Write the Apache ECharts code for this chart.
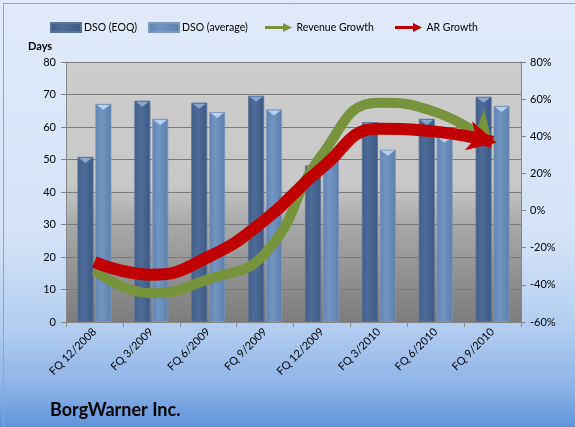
<!DOCTYPE html>
<html><head><meta charset="utf-8">
<script src="https://cdn.jsdelivr.net/npm/echarts@6/dist/echarts.min.js"></script>
<style>html,body{margin:0;padding:0;}#c{width:575px;height:427px;}</style>
</head><body><div id="c"></div>
<script>
const categories = ['FQ 12/2008','FQ 3/2009','FQ 6/2009','FQ 9/2009','FQ 12/2009','FQ 3/2010','FQ 6/2010','FQ 9/2010'];
const dsoEOQ = [50.8, 68.1, 67.5, 69.6, 48.2, 61.5, 62.5, 69.3];
const dsoAvg = [67.1, 62.5, 64.6, 65.4, 53.5, 53.0, 57.0, 66.5];
const revenueGrowth = [-32, -44.5, -37, -23, 30, 58, 53, 36];
const arGrowth = [-27.7, -34.5, -25, -5, 23, 44, 42.5, 37];
const leftTicks = {min: 0, max: 80, interval: 10};
const rightTicks = {min: -60, max: 80, interval: 20};

const FONT = 'Lato';
const chart = echarts.init(document.getElementById('c'));
const arrowIcon = 'path://M0,3.2 L20,3.2 L20,0 L30,5 L20,10 L20,6.8 L0,6.8 Z';
const capShape = 'path://M0,0 L10,0 L5,3.5 Z';

function lineSeries(name, data, color, width, z) {
  return {
    name, type: 'line', yAxisIndex: 1, data, smooth: 0.5,
    lineStyle: {color, width, cap: 'butt'}, itemStyle: {color},
    showSymbol: false, symbol: 'none', z, animation: false
  };
}
// arrow head drawn at the end of a line series, oriented from the library's own coordinates
function arrowSeries(name, data, color, len, wid, tweakDeg, extend, z) {
  const last = data.length - 1;
  return {
    name, type: 'custom', yAxisIndex: 1, z, animation: false, silent: true,
    data: [[last, data[last], data[last - 1]]],
    renderItem: function (params, api) {
      const p = api.coord([api.value(0), api.value(1)]);
      const q = api.coord([api.value(0) - 1, api.value(2)]);
      const a = Math.atan2(p[1] - q[1], p[0] - q[0]) + tweakDeg * Math.PI / 180;
      const c = Math.cos(a), s = Math.sin(a);
      const tip = [p[0] + extend * c, p[1] + extend * s];
      const loc = [[0, 0], [-len, -wid / 2], [-len * 0.72, 0], [-len, wid / 2]];
      const pts = loc.map(([x, y]) => [tip[0] + x * c - y * s, tip[1] + x * s + y * c]);
      return {type: 'polygon', shape: {points: pts}, style: {fill: color}};
    }
  };
}
function capSeries(data, color) {
  return {type: 'pictorialBar', data, symbol: capShape, symbolSize: [13, 5],
    symbolPosition: 'end', symbolOffset: [0, 1], barWidth: 16, barGap: '12%', z: 3, silent: true,
    itemStyle: {color}, animation: false};
}
const option = {
  animation: false,
  backgroundColor: new echarts.graphic.LinearGradient(0, 0, 0, 1, [
    {offset: 0, color: '#e0eafa'}, {offset: 0.55, color: '#d5e3f8'},
    {offset: 0.77, color: '#b2cdf0'}, {offset: 0.9, color: '#8fb4e8'}, {offset: 1, color: '#5f94db'}]),
  textStyle: {fontFamily: FONT},
  title: {text: 'BorgWarner Inc.', left: 50, top: 401, padding: 0,
    textStyle: {fontFamily: FONT, fontWeight: 'bold', fontSize: 18, color: '#000'}},
  graphic: [
    {type: 'rect', left: 1, top: 1, shape: {width: 572, height: 424},
      style: {fill: 'none', stroke: '#9aa4b0', lineWidth: 1}, silent: true},
    {type: 'text', left: 28, top: 41, style: {text: 'Days', fontFamily: FONT, fontWeight: 'bold', fontSize: 11, fill: '#000'}}
  ],
  legend: [
    {left: 50, name: 'DSO (EOQ)', icon: 'rect'},
    {left: 148, name: 'DSO (average)', icon: 'rect'},
    {left: 265, name: 'Revenue Growth', icon: arrowIcon, itemStyle: {color: '#77933c'}},
    {left: 395, name: 'AR Growth', icon: arrowIcon, itemStyle: {color: '#c00000'}}
  ].map(d => ({
    top: 22, left: d.left, padding: 0, itemWidth: 30, itemHeight: 9, itemGap: 4,
    textStyle: {fontFamily: FONT, fontSize: 10.5, color: '#000', padding: [0, 0, 0, -2]},
    data: [{name: d.name, icon: d.icon, itemStyle: d.itemStyle}]
  })),
  grid: {left: 66, right: 54, top: 62, bottom: 105, show: true, borderWidth: 0,
    backgroundColor: new echarts.graphic.LinearGradient(0, 0, 0, 1, [
      {offset: 0, color: '#cdcdcd'}, {offset: 0.47, color: '#c8c8c8'},
      {offset: 0.62, color: '#a9a9a9'}, {offset: 1, color: '#7c7c7c'}])},
  xAxis: {
    type: 'category', data: categories,
    axisLine: {lineStyle: {color: '#868686'}},
    axisTick: {show: true, length: 5, lineStyle: {color: '#868686'}},
    axisLabel: {rotate: 45, fontSize: 11, color: '#000', fontFamily: FONT, margin: 8}
  },
  yAxis: [
    {type: 'value', min: leftTicks.min, max: leftTicks.max, interval: leftTicks.interval,
      axisLine: {show: true, lineStyle: {color: '#868686'}},
      axisTick: {show: true, length: 5, lineStyle: {color: '#868686'}},
      axisLabel: {fontSize: 11, color: '#000', fontFamily: FONT, margin: 10},
      splitLine: {lineStyle: {color: '#7a7a7a', width: 1}}},
    {type: 'value', min: rightTicks.min, max: rightTicks.max, interval: rightTicks.interval,
      axisLine: {show: true, lineStyle: {color: '#868686'}},
      axisTick: {show: true, length: 5, lineStyle: {color: '#868686'}},
      axisLabel: {fontSize: 11, color: '#000', fontFamily: FONT, margin: 9, formatter: '{value}%'},
      splitLine: {show: false}}
  ],
  series: [
    {name: 'DSO (EOQ)', type: 'bar', data: dsoEOQ, barWidth: 16, barGap: '12%',
      itemStyle: {color: new echarts.graphic.LinearGradient(0, 0, 1, 0, [
        {offset: 0, color: '#3f5f8a'}, {offset: 0.4, color: '#4d6d98'}, {offset: 1, color: '#3a5883'}]),
        borderColor: '#5b7396', borderWidth: 0.8}},
    {name: 'DSO (average)', type: 'bar', data: dsoAvg, barWidth: 16,
      itemStyle: {color: new echarts.graphic.LinearGradient(0, 0, 1, 0, [
        {offset: 0, color: '#5f83b2'}, {offset: 0.4, color: '#7395c2'}, {offset: 1, color: '#5b7eac'}]),
        borderColor: '#7d98bd', borderWidth: 0.8}},
    capSeries(dsoEOQ, '#86a6cf'),
    capSeries(dsoAvg, '#b4d2f2'),
    lineSeries('Revenue Growth', revenueGrowth, '#77933c', 10, 5),
    arrowSeries('Revenue Growth', revenueGrowth, '#77933c', 32, 30, 22, 0, 6),
    lineSeries('AR Growth', arGrowth, '#c00000', 12, 7),
    arrowSeries('AR Growth', arGrowth, '#c00000', 29, 30, 4, 4, 8)
  ]
};
chart.setOption(option);
</script></body></html>
